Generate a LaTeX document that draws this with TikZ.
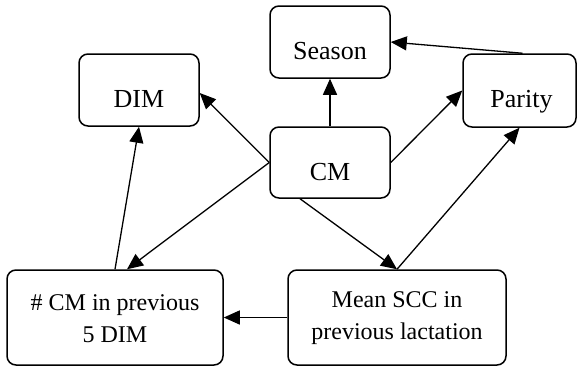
\documentclass[tikz,border=0pt]{standalone}
\usepackage{fontspec}
\setmainfont{Liberation Serif}
\usetikzlibrary{arrows.meta,calc}
\begin{document}
\begin{tikzpicture}[x=1pt,y=-1pt,
  box/.style={draw, line width=1.5pt, rounded corners=9pt, inner sep=0pt},
  lbl/.style={anchor=base, inner sep=0pt, font=\fontsize{26}{30}\selectfont},
  lbl2/.style={inner sep=0pt, align=center, font=\fontsize{24}{32}\selectfont},
  arr/.style={-{Triangle[length=16pt,width=14pt]}, line width=1.3pt}]
\useasboundingbox (0,0) rectangle (577,367);
% boxes
\node[box, minimum width=120pt, minimum height=72pt] (DIM) at (139,90) {};
\node[box, minimum width=120pt, minimum height=72pt] (Season) at (330,42) {};
\node[box, minimum width=113pt, minimum height=73pt] (Parity) at (519.5,90.5) {};
\node[box, minimum width=120pt, minimum height=71pt] (CM) at (330,162.5) {};
\node[box, minimum width=216pt, minimum height=95pt] (NCM) at (115,317.5) {};
\node[box, minimum width=218pt, minimum height=95pt] (MS) at (397,317.5) {};
% labels
\node[lbl] (DIMt) at ($(DIM.center)+(0,17.5)$) {DIM};
\node[lbl] (Seasont) at ($(Season.center)+(0,17.5)$) {Season};
\node[lbl] (Parityt) at ($(Parity.center)+(2,17)$) {Parity};
\node[lbl] (CMt) at ($(CM.center)+(0,17.5)$) {CM};
\node[lbl2] (NCMt) at ($(NCM.center)+(0,1)$) {\# CM in previous\\5 DIM};
\node[lbl2] (MSt) at ($(MS.center)+(0,1)$) {Mean SCC in\\previous lactation};
% arrows
\draw[arr] (CM.north) -- (Season.south);
\draw[arr] ($(Parity.north)+(3,0)$) -- (Season.east);
\draw[arr] (CM.west) -- ($(DIM.east)+(0,3)$);
\draw[arr] (CM.west) -- ($(NCM.north)+(12,0)$);
\draw[arr] (NCM.north) -- (DIM.south);
\draw[arr] (CM.east) -- (Parity.west);
\draw[arr] ($(CM.south)+(-30,0)$) -- (MS.north);
\draw[arr] (MS.north) -- (Parity.south);
\draw[arr] (MS.west) -- (NCM.east);
\end{tikzpicture}
\end{document}
